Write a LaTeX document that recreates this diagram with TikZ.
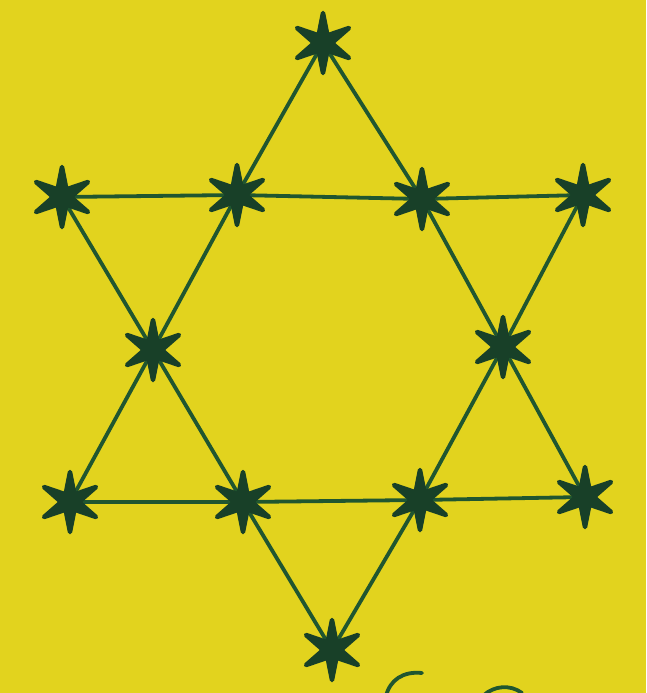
\documentclass[tikz,border=0pt]{standalone}
\usetikzlibrary{shapes.geometric}
\definecolor{bgyellow}{RGB}{226,211,30}
\definecolor{linegreen}{RGB}{32,86,48}
\definecolor{stargreen}{RGB}{24,64,40}
\tikzset{
  starnode/.style={star, star points=6, star point ratio=3.4, minimum size=60pt,
    inner sep=0pt, fill=stargreen, draw=stargreen, line width=4.5pt, line join=round},
  edge/.style={draw=linegreen, line width=3.8pt},
  scrawl/.style={draw=linegreen, line width=3.8pt, line cap=round}
}
\begin{document}
\begin{tikzpicture}[x=1pt,y=-1pt]
\fill[bgyellow] (0,0) rectangle (646,693);
\useasboundingbox (0,0) rectangle (646,693);
% positions
\coordinate (T) at (323,43);
\coordinate (L) at (62,197);
\coordinate (UL) at (237,195);
\coordinate (UR) at (422,199);
\coordinate (R) at (583,195);
\coordinate (ML) at (153,350);
\coordinate (MR) at (503,347);
\coordinate (LL) at (70,502);
\coordinate (LB) at (243,502);
\coordinate (LR2) at (420,500);
\coordinate (LR) at (585,497);
\coordinate (B) at (332,650);
% upward triangle
\draw[edge] (T) -- (UL) -- (ML) -- (LL) -- (LB) -- (LR2) -- (LR) -- (MR) -- (UR) -- cycle;
% downward triangle
\draw[edge] (L) -- (UL) -- (UR) -- (R) -- (MR) -- (LR2) -- (B) -- (LB) -- (ML) -- cycle;
% stars
\foreach \p in {T,L,UL,UR,R,ML,MR,LL,LB,LR2,LR,B}
  \node[starnode] (s\p) at (\p) {};
% partial scrawl at the bottom edge
\coordinate (c1a) at (386,696);
\coordinate (c1b) at (422,673);
\coordinate (c2a) at (484,695);
\coordinate (c2b) at (522,693);
\draw[scrawl] (c1a) .. controls (390,680) and (403,671) .. (c1b);
\draw[scrawl] (c2a) .. controls (494,686) and (510,684) .. (c2b);
\end{tikzpicture}
\end{document}
